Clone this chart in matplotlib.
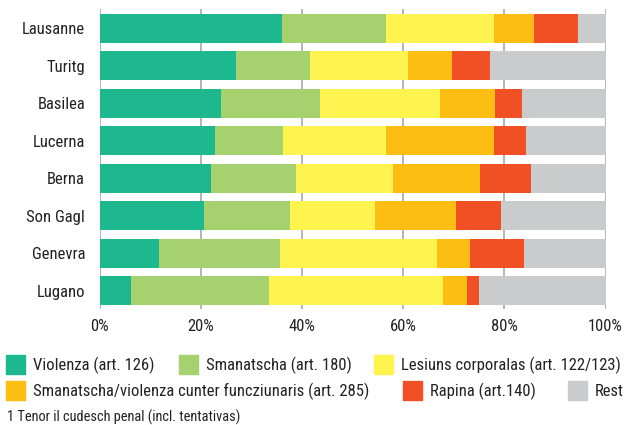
import matplotlib
matplotlib.use("Agg")
import matplotlib.pyplot as plt
from matplotlib.patches import Rectangle
import numpy as np

plt.rcParams['font.family'] = ['Roboto Condensed', 'Liberation Sans Narrow', 'Roboto', 'DejaVu Sans']

cities = ["Lausanne", "Turitg", "Basilea", "Lucerna", "Berna", "Son Gagl", "Genevra", "Lugano"]
categories = ["Violenza (art. 126)", "Smanatscha (art. 180)", "Lesiuns corporalas (art. 122/123)",
              "Smanatscha/violenza cunter funcziunaris (art. 285)", "Rapina (art.140)", "Rest"]
colors = ["#1db88e", "#a5d16f", "#fff44f", "#fdbe14", "#f05023", "#cacbcc"]

violenza = [36.0, 26.9, 24.0, 22.8, 22.0, 20.6, 11.7, 6.2]
smanatscha = [20.7, 14.6, 19.6, 13.4, 16.8, 17.0, 23.9, 27.3]
lesiuns = [21.3, 19.5, 23.7, 20.5, 19.2, 16.8, 31.1, 34.4]
funcziunaris = [7.8, 8.6, 10.9, 21.3, 17.2, 16.1, 6.5, 4.7]
rapina = [8.8, 7.6, 5.3, 6.3, 10.1, 8.8, 10.7, 2.4]
rest = [5.4, 22.8, 16.5, 15.7, 14.7, 20.7, 16.1, 25.0]

series = [violenza, smanatscha, lesiuns, funcziunaris, rapina, rest]
xticks = [0, 20, 40, 60, 80, 100]
footnote = "1 Tenor il cudesch penal (incl. tentativas)"

W, H = 627, 425
fig = plt.figure(figsize=(W / 100, H / 100), dpi=100)
ax = fig.add_axes([99.7 / W, 1 - 309.3 / H, (605.5 - 99.7) / W, 300 / H])

y = np.arange(len(cities))
left = np.zeros(len(cities))
for vals, col in zip(series, colors):
    ax.barh(y, vals, left=left, height=0.775, color=col, zorder=2, linewidth=0)
    left += np.array(vals)

FS = 12
TXT = "#222222"
ax.set_xlim(0, 100)
ax.set_ylim(len(cities) - 0.5, -0.5)
ax.set_yticks(y)
ax.set_yticklabels(cities, fontsize=FS, color=TXT)
ax.set_xticks(xticks)
ax.set_xticklabels([f"{t}%" for t in xticks], fontsize=FS, color=TXT)
ax.tick_params(length=0)
ax.tick_params(axis='x', pad=7)
ax.tick_params(axis='y', pad=10.5)
for s in ax.spines.values():
    s.set_visible(False)
for t in xticks:
    ax.axvline(t, color="#a8a8a8", linewidth=1.2, zorder=1)

# legend drawn in figure pixel coordinates
def legend_item(px, py, col, label):
    fig.patches.append(Rectangle((px / W, 1 - (py + 9.5) / H), 19 / W, 19 / H,
                                 transform=fig.transFigure, color=col, figure=fig))
    fig.text((px + 27) / W, 1 - (py + 0.5) / H, label, fontsize=FS, va="center", ha="left", color=TXT)

legend_item(6, 364.5, colors[0], categories[0])
legend_item(179, 364.5, colors[1], categories[1])
legend_item(374, 364.5, colors[2], categories[2])
legend_item(6, 390.5, colors[3], categories[3])
legend_item(403, 390.5, colors[4], categories[4])
legend_item(568, 390.5, colors[5], categories[5])

fig.text(7 / W, 1 - 417 / H, footnote, fontsize=10.4, va="center", ha="left", color=TXT)

fig.savefig("out.png", dpi=100)
